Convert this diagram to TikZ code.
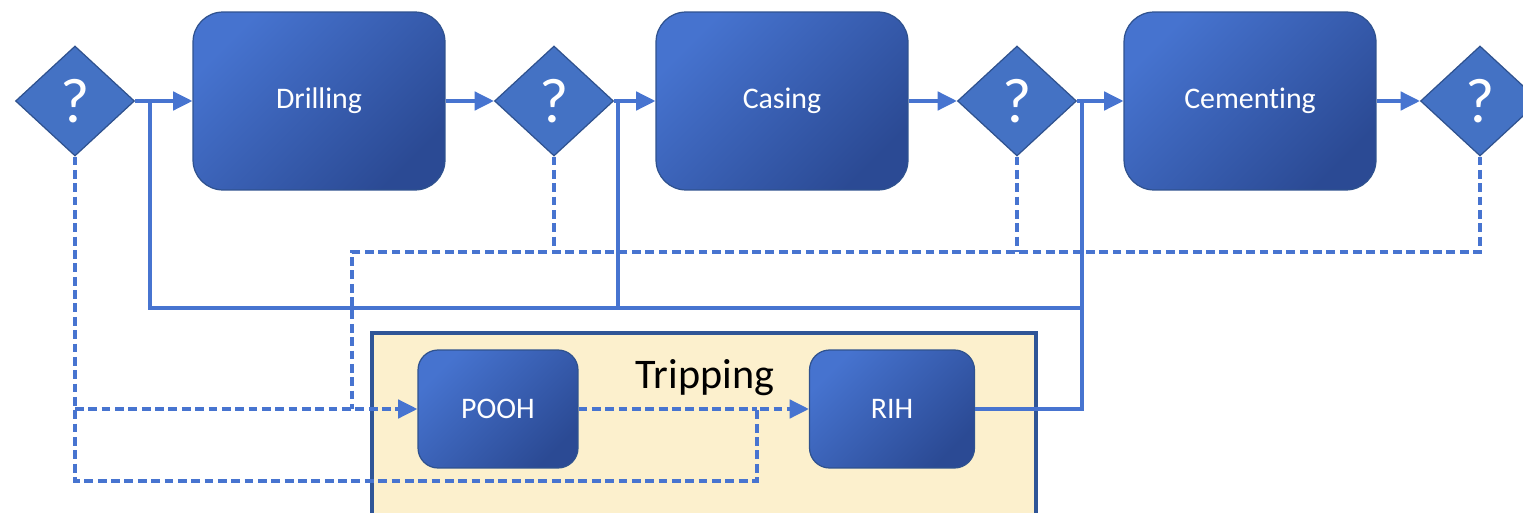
\documentclass[tikz,border=0pt]{standalone}
\usepackage{fontspec}
\setmainfont{Carlito}[Ligatures=NoCommon]
\usetikzlibrary{shapes.geometric,arrows.meta}
\definecolor{qblue}{HTML}{4472C4}
\definecolor{qedge}{HTML}{2F528F}
\definecolor{boxtop}{HTML}{4673CF}
\definecolor{boxbot}{HTML}{2B4A94}
\definecolor{lcol}{HTML}{4774D0}
\definecolor{tripfill}{HTML}{FCF0CD}
\definecolor{tripedge}{HTML}{2F5597}
\tikzset{
  task/.style={draw=qedge, line width=0.7pt, rounded corners=0.6cm, top color=boxtop, bottom color=boxbot, shading angle=45, text=white, minimum width=5.04cm, minimum height=3.56cm, font=\fontsize{17}{19}\selectfont},
  subtask/.style={task, rounded corners=0.4cm, minimum width=3.2cm, minimum height=2.36cm},
  check/.style={diamond, draw=qedge, line width=0.7pt, fill=qblue, text=white, minimum width=2.38cm, minimum height=2.2cm, inner sep=0pt, font=\fontsize{36}{40}\selectfont},
  link/.style={draw=lcol, line width=2pt},
  retry/.style={link, dash pattern=on 5pt off 2.6pt},
  tip/.style={-{Triangle[length=11pt,width=10.5pt]}}
}
\begin{document}
\begin{tikzpicture}[x=0.02cm, y=-0.02cm, line join=miter]
\useasboundingbox (0,0) rectangle (1523,513);
% tripping group
\draw[fill=tripfill, draw=tripedge, line width=1.8pt] (372,333) rectangle (1036,530);
\node[font=\fontsize{24}{28}\selectfont] (triplabel) at (705,378) {Tripping};

% main sequence
\node[check] (d1) at (75,101) {?};
\node[task] (drill) at (319,101) {Drilling};
\node[check] (d2) at (554,101) {?};
\node[task] (casing) at (782,101) {Casing};
\node[check] (d3) at (1017,101) {?};
\node[task] (cement) at (1250,101) {Cementing};
\node[check] (d4) at (1480,101) {?};

% tripping steps
\node[subtask] (pooh) at (498,409) {POOH};
\node[subtask, minimum width=3.3cm] (rih) at (892,409) {RIH};

\coordinate (j1) at (150,101);
\coordinate (j2) at (618,101);
\coordinate (j3) at (1082,101);
\coordinate (r1) at (150,308);
\coordinate (fail) at (352,252);
\coordinate (lo) at (757,481);

% forward flow
\draw[link, tip] (d1.east) -- (drill.west);
\draw[link, tip] (drill.east) -- (d2.west);
\draw[link, tip] (d2.east) -- (casing.west);
\draw[link, tip] (casing.east) -- (d3.west);
\draw[link, tip] (d3.east) -- (cement.west);
\draw[link, tip] (cement.east) -- (d4.west);

% back from RIH
\draw[link] (rih.east) -| (j3);
\draw[link] (j1) -- (r1) -- (r1 -| j3);
\draw[link] (j2) -- (j2 |- r1);

% failed checks
\draw[retry] (d2.south) -- (d2.south |- fail);
\draw[retry] (d3.south) -- (d3.south |- fail);
\draw[retry] (d4.south) |- (fail) -- (fail |- pooh.west);
\draw[retry, tip] (d1.south |- pooh.west) -- (pooh.west);
\draw[retry, tip] (d1.south) |- (lo) |- (rih.west);
\draw[retry] (pooh.east) -- (lo |- rih.west);
\end{tikzpicture}
\end{document}
